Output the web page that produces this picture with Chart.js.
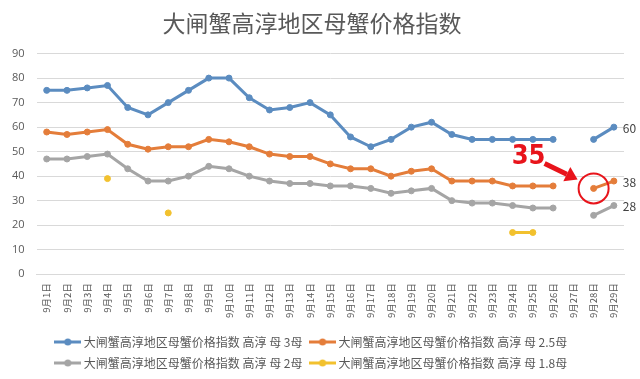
<!DOCTYPE html>
<html><head><meta charset="utf-8">
<script src="https://cdn.jsdelivr.net/npm/chart.js@4.4.0/dist/chart.umd.min.js"></script>
<style>html,body{margin:0;padding:0;background:#fff;} #wrap{width:640px;height:379px;position:relative;}</style>
</head><body><div id="wrap"><canvas id="c" width="640" height="379"></canvas></div>
<script>
const categories = ['9月1日','9月2日','9月3日','9月4日','9月5日','9月6日','9月7日','9月8日','9月9日','9月10日','9月11日','9月12日','9月13日','9月14日','9月15日','9月16日','9月17日','9月18日','9月19日','9月20日','9月21日','9月22日','9月23日','9月24日','9月25日','9月26日','9月27日','9月28日','9月29日'];
const seriesNames = ['大闸蟹高淳地区母蟹价格指数 高淳 母 3母','大闸蟹高淳地区母蟹价格指数 高淳 母 2.5母','大闸蟹高淳地区母蟹价格指数 高淳 母 2母','大闸蟹高淳地区母蟹价格指数 高淳 母 1.8母'];
const mother3  = [75,75,76,77,68,65,70,75,80,80,72,67,68,70,65,56,52,55,60,62,57,55,55,55,55,55,null,55,60];
const mother25 = [58,57,58,59,53,51,52,52,55,54,52,49,48,48,45,43,43,40,42,43,38,38,38,36,36,36,null,35,38];
const mother2  = [47,47,48,49,43,38,38,40,44,43,40,38,37,37,36,36,35,33,34,35,30,29,29,28,27,27,null,24,28];
const mother18 = [null,null,null,39,null,null,25,null,null,null,null,null,null,null,null,null,null,null,null,null,null,null,null,17,17,null,null,null,null];
const seriesColors = ['#5b8cc0','#e47d3a','#a5a5a5','#f2c12e'];
const yMin = 0, yMax = 90, yStep = 10;
const calloutIndex = 27, calloutValue = 35, calloutText = '35';
const endLabelIndex = 28;

function legendIcon(color){
  const c = document.createElement('canvas'); c.width = 27; c.height = 8;
  const g = c.getContext('2d');
  g.strokeStyle = color; g.lineWidth = 3;
  g.beginPath(); g.moveTo(0,4); g.lineTo(27,4); g.stroke();
  g.fillStyle = color; g.beginPath(); g.arc(14,4,3.5,0,Math.PI*2); g.fill();
  return c;
}
const allSeries = [mother3, mother25, mother2, mother18];
const datasets = allSeries.map((d,i)=>({
  label: seriesNames[i], data: d, borderColor: seriesColors[i], backgroundColor: seriesColors[i],
  borderWidth: 3, pointRadius: 3, pointHoverRadius: 3, pointBackgroundColor: seriesColors[i],
  pointBorderColor: seriesColors[i], pointBorderWidth: 1, spanGaps: false, tension: 0, fill: false
}));

const annot = {
  id: 'annot',
  afterDatasetsDraw(chart){
    const ctx = chart.ctx;
    ctx.save();
    ctx.font = '12px "Noto Sans CJK SC", "Open Sans", sans-serif';
    ctx.fillStyle = '#404040'; ctx.textAlign = 'left'; ctx.textBaseline = 'middle';
    [0,1,2].forEach(di=>{
      const el = chart.getDatasetMeta(di).data[endLabelIndex];
      ctx.fillText(String(chart.data.datasets[di].data[endLabelIndex]), el.x + 9, el.y + 1);
    });
    const xs = chart.scales.x, ys = chart.scales.y;
    const cx = xs.getPixelForValue(calloutIndex), cy = ys.getPixelForValue(calloutValue);
    ctx.strokeStyle = '#e8141b'; ctx.lineWidth = 2;
    ctx.beginPath(); ctx.arc(cx, cy, 15, 0, Math.PI*2); ctx.stroke();
    ctx.fillStyle = '#e8141b';
    ctx.font = 'bold 27px "Liberation Sans Narrow", "DejaVu Sans Condensed", sans-serif';
    ctx.textAlign = 'center'; ctx.textBaseline = 'middle';
    ctx.fillText(calloutText, cx - 65, cy - 31);
    const sx = cx - 49, sy = cy - 25, tx = cx - 16, ty = cy - 9;
    const ang = Math.atan2(ty - sy, tx - sx);
    const hl = 12, hw = 8;
    const bx = tx - hl*Math.cos(ang), by = ty - hl*Math.sin(ang);
    ctx.strokeStyle = '#e8141b'; ctx.lineWidth = 5; ctx.lineCap = 'butt';
    ctx.beginPath(); ctx.moveTo(sx, sy); ctx.lineTo(bx, by); ctx.stroke();
    ctx.beginPath();
    ctx.moveTo(tx, ty);
    ctx.lineTo(bx + hw*Math.sin(ang), by - hw*Math.cos(ang));
    ctx.lineTo(bx - hw*Math.sin(ang), by + hw*Math.cos(ang));
    ctx.closePath(); ctx.fill();
    ctx.restore();
  }
};

new Chart(document.getElementById('c'), {
  type: 'line',
  data: { labels: categories, datasets },
  plugins: [annot],
  options: {
    responsive: false, animation: false, devicePixelRatio: 1,
    layout: { padding: { left: 0, right: 16, top: 0, bottom: 0 } },
    plugins: {
      tooltip: { enabled: false },
      title: { display: true, text: '大闸蟹高淳地区母蟹价格指数', color: '#595959',
        font: { family: '"Noto Sans CJK SC", sans-serif', size: 23, weight: 'normal' },
        padding: { top: 9, bottom: 17 } },
      legend: { position: 'bottom',
        labels: { usePointStyle: true, pointStyleWidth: 21, color: '#595959', padding: 9,
          font: { family: '"Noto Sans CJK SC", sans-serif', size: 12 },
          generateLabels(chart){
            return chart.data.datasets.map((ds,i)=>({ text: ds.label, pointStyle: legendIcon(seriesColors[i]),
              fillStyle: seriesColors[i], strokeStyle: seriesColors[i], lineWidth: 0, hidden: false, datasetIndex: i, fontColor: '#595959' }));
          } } }
    },
    scales: {
      x: { offset: true, grid: { display: false, drawTicks: false, tickLength: 0 }, border: { display: true, color: '#d9d9d9' },
        ticks: { minRotation: 90, maxRotation: 90, autoSkip: false, color: '#595959', padding: 9,
          font: { family: '"Noto Sans CJK SC", sans-serif', size: 9.5 } } },
      y: { min: yMin, max: yMax, grid: { color: '#d9d9d9', drawTicks: false }, border: { display: false },
        ticks: { stepSize: yStep, color: '#595959', padding: 12,
          font: { family: '"Open Sans", sans-serif', size: 11 } } }
    }
  }
});
</script></body></html>
